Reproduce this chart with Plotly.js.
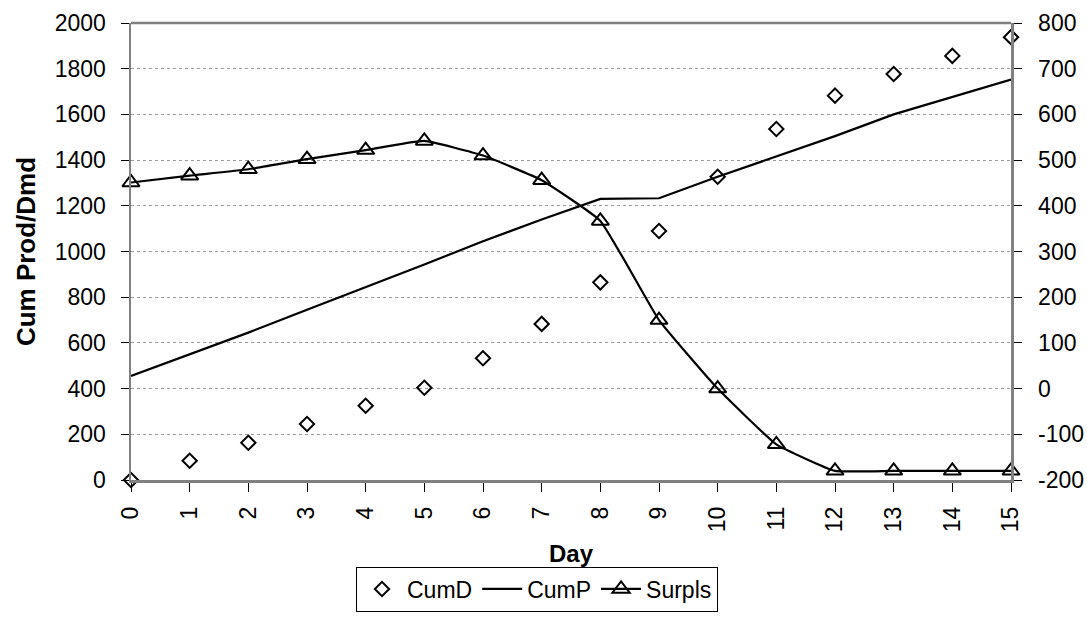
<!DOCTYPE html>
<html>
<head>
<meta charset="utf-8">
<script src="https://cdn.plot.ly/plotly-3.0.1.min.js"></script>
<style>
  html, body { margin: 0; padding: 0; background: #fff; }
  #chart { width: 1087px; height: 632px; }
</style>
</head>
<body>
<div id="chart"></div>
<script>
// Day index (0..15)
const days = [0, 1, 2, 3, 4, 5, 6, 7, 8, 9, 10, 11, 12, 13, 14, 15];
// Cumulative demand
const cumD = [0, 84, 163, 245, 325, 404, 533, 683, 865, 1090, 1327, 1536, 1682, 1777, 1856, 1938];
// Cumulative production
const cumP = [455, 550, 645, 745, 843, 943, 1045, 1140, 1230, 1233, 1327, 1415, 1505, 1600, 1677, 1752];
// Surplus (right axis)
const surpls = [451, 466, 480, 502, 522, 542, 510, 456, 367, 150, 0, -122, -180, -180, -180, -180];

const leftTicks = [0, 200, 400, 600, 800, 1000, 1200, 1400, 1600, 1800, 2000];
const rightTicks = [-200, -100, 0, 100, 200, 300, 400, 500, 600, 700, 800];

const FONT = 'Arial, "Liberation Sans", sans-serif';

const traces = [
  {
    name: 'CumD', x: days, y: cumD, type: 'scatter', mode: 'markers',
    marker: { symbol: 'diamond-open', size: 11, color: '#000', line: { width: 2, color: '#000' } },
    cliponaxis: false
  },
  {
    name: 'CumP', x: days, y: cumP, type: 'scatter', mode: 'lines',
    line: { color: '#000', width: 2.2 },
    cliponaxis: false
  },
  {
    name: 'Surpls', x: days, y: surpls, type: 'scatter', mode: 'lines+markers', yaxis: 'y2',
    line: { color: '#000', width: 2.2, shape: 'spline', smoothing: 0.35 },
    marker: { symbol: 'triangle-up-open', size: 15, color: '#000', line: { width: 2, color: '#000' } },
    cliponaxis: false
  }
];

const layout = {
  width: 1087, height: 632,
  margin: { l: 131, r: 76, t: 23, b: 152 },
  paper_bgcolor: '#fff', plot_bgcolor: '#fff',
  font: { family: FONT, size: 23, color: '#000' },
  showlegend: true,
  legend: {
    orientation: 'h',
    xref: 'container', yref: 'container',
    x: 0.494, xanchor: 'center',
    y: 0.068, yanchor: 'middle',
    bordercolor: '#000', borderwidth: 1,
    bgcolor: '#fff',
    font: { family: FONT, size: 23, color: '#000' },
    itemwidth: 40, tracegroupgap: 0
  },
  xaxis: {
    range: [0, 15],
    tickvals: days,
    ticktext: days.map(String),
    tickangle: -90,
    ticks: 'outside', ticklen: 9, tickwidth: 1, tickcolor: '#000',
    ticklabelstandoff: 6,
    showline: true, linecolor: '#808080', linewidth: 2.5,
    mirror: false,
    showgrid: false, zeroline: false,
    title: { text: '<b>Day</b>', font: { family: FONT, size: 24 }, standoff: 22 }
  },
  yaxis: {
    range: [0, 2000],
    tickvals: leftTicks,
    ticktext: leftTicks.map(String),
    ticks: 'outside', ticklen: 8, tickwidth: 1, tickcolor: '#000',
    ticklabelstandoff: 10,
    showline: true, linecolor: '#808080', linewidth: 2.5,
    showgrid: true, gridcolor: '#9a9a9a', gridwidth: 1, griddash: 'dot',
    zeroline: false,
    title: { text: '<b>Cum Prod/Dmd</b>', font: { family: FONT, size: 26 }, standoff: 12 }
  },
  yaxis2: {
    range: [-200, 800],
    overlaying: 'y', side: 'right',
    tickvals: rightTicks,
    ticktext: rightTicks.map(v => String(v)),
    ticks: 'outside', ticklen: 8, tickwidth: 1, tickcolor: '#000',
    ticklabelstandoff: 12,
    showline: true, linecolor: '#808080', linewidth: 2.5,
    showgrid: false, zeroline: false
  },
  shapes: [
    // top frame edge of the plot area
    { type: 'line', xref: 'paper', yref: 'paper', x0: 0, x1: 1, y0: 1, y1: 1,
      line: { color: '#808080', width: 2.5 } }
  ]
};

Plotly.newPlot('chart', traces, layout, { displayModeBar: false, staticPlot: true });
</script>
</body>
</html>
